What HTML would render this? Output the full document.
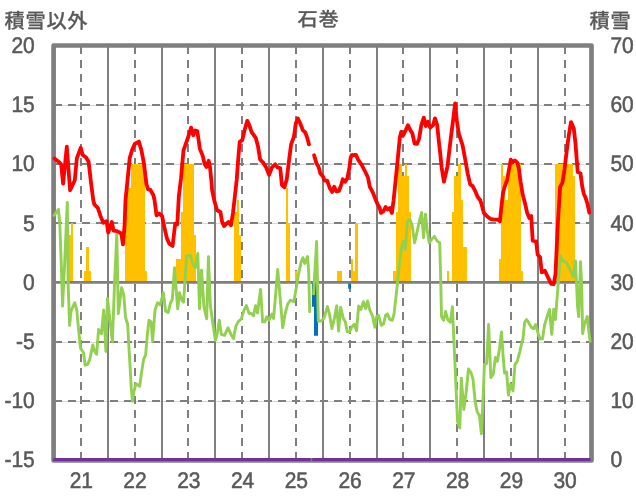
<!DOCTYPE html>
<html lang="ja"><head><meta charset="utf-8"><title>石巻</title>
<style>html,body{margin:0;padding:0;background:#fff}body{width:636px;height:501px;overflow:hidden}svg{display:block}text{font-family:"Liberation Sans","Noto Sans CJK JP",sans-serif;font-size:21px;fill:#595959}.j{text-rendering:geometricPrecision;font-weight:500;stroke:#595959;stroke-width:0.25px;font-size:20.2px;letter-spacing:0.75px}.n{stroke:#595959;stroke-width:0.5px;stroke-linejoin:round;text-rendering:geometricPrecision}</style></head><body>
<svg width="636" height="501" viewBox="0 0 636 501">
<rect width="636" height="501" fill="#fff"/>
<g stroke="#d9d9d9" stroke-width="1">
<line x1="53.6" x2="591.5" y1="105.5" y2="105.5"/>
<line x1="53.6" x2="591.5" y1="164.5" y2="164.5"/>
<line x1="53.6" x2="591.5" y1="223.5" y2="223.5"/>
<line x1="53.6" x2="591.5" y1="342.5" y2="342.5"/>
<line x1="53.6" x2="591.5" y1="401.5" y2="401.5"/>
</g>
<g stroke="#7f7f7f" stroke-width="2" stroke-dasharray="8 6">
<line x1="54" x2="591.5" y1="105.0" y2="105.0"/>
<line x1="54" x2="591.5" y1="164.0" y2="164.0"/>
<line x1="54" x2="591.5" y1="223.0" y2="223.0"/>
<line x1="54" x2="591.5" y1="342.0" y2="342.0"/>
<line x1="54" x2="591.5" y1="401.0" y2="401.0"/>
</g>
<g stroke="#7f7f7f" stroke-width="2">
<line x1="108" x2="108" y1="45.5" y2="460.4"/>
<line x1="162" x2="162" y1="45.5" y2="460.4"/>
<line x1="215" x2="215" y1="45.5" y2="460.4"/>
<line x1="269" x2="269" y1="45.5" y2="460.4"/>
<line x1="323" x2="323" y1="45.5" y2="460.4"/>
<line x1="377" x2="377" y1="45.5" y2="460.4"/>
<line x1="430" x2="430" y1="45.5" y2="460.4"/>
<line x1="484" x2="484" y1="45.5" y2="460.4"/>
<line x1="538" x2="538" y1="45.5" y2="460.4"/>
</g>
<g stroke="#7f7f7f" stroke-width="2" stroke-dasharray="8 6">
<line x1="81" x2="81" y1="46" y2="460.4"/>
<line x1="135" x2="135" y1="46" y2="460.4"/>
<line x1="188" x2="188" y1="46" y2="460.4"/>
<line x1="242" x2="242" y1="46" y2="460.4"/>
<line x1="296" x2="296" y1="46" y2="460.4"/>
<line x1="350" x2="350" y1="46" y2="460.4"/>
<line x1="403" x2="403" y1="46" y2="460.4"/>
<line x1="457" x2="457" y1="46" y2="460.4"/>
<line x1="511" x2="511" y1="46" y2="460.4"/>
<line x1="565" x2="565" y1="46" y2="460.4"/>
</g>
<g fill="#ffc000">
<path d="M69,282.4V235H71V223H73V282.4ZM84,282.4V271H86V247H89V271H91V282.4ZM125,282.4V212H127V188H129V188H131V164H134V164H136V164H138V164H140V164H142V164H145V271H147V282.4ZM176,282.4V259H178V259H181V212H183V164H185V164H187V164H190V164H192V164H194V235H196V282.4ZM234,282.4V212H237V200H239V235H241V282.4ZM286,282.4V188H288V223H290V282.4ZM295,282.4V271H297V282.4ZM337,282.4V271H340V271H342V282.4ZM351,282.4V259H353V271H355V223H358V282.4ZM393,282.4V271H396V212H398V164H400V164H402V176H405V164H407V176H409V212H411V282.4ZM447,282.4V271H449V282.4ZM452,282.4V212H454V176H456V176H458V164H461V200H463V247H465V247H467V282.4ZM499,282.4V259H501V164H503V176H505V200H508V164H510V164H512V164H514V164H517V164H519V164H521V271H523V282.4ZM555,282.4V164H557V164H559V164H561V164H564V164H566V164H568V164H570V164H573V176H575V282.4Z"/>
</g>
<g fill="#0070c0">
<path d="M312,282.4V306.7H314V335.8H318V282.4ZM348.2,282.4V288.8H351V282.4Z"/>
</g>
<line x1="53.6" x2="591.5" y1="282.35" y2="282.35" stroke="#7f7f7f" stroke-width="2.9"/>
<rect x="53.6" y="45.5" width="537.9" height="414.9" fill="none" stroke="#7f7f7f" stroke-width="4.7" stroke-linejoin="round"/>
<polyline points="54.1,215.3 58.5,209.3 59.8,224.0 61.2,262.0 62.6,306.1 64.7,262.0 67.3,202.5 68.1,282.4 69.6,325.4 71.0,311.1 74.7,302.7 76.8,310.3 78.5,328.7 80.5,348.2 83.5,352.8 85.2,365.2 87.7,364.4 89.8,359.3 92.8,344.9 94.4,350.9 96.6,354.3 98.6,329.5 101.5,333.7 103.7,309.9 105.9,351.5 107.5,298.5 112.4,341.5 114.6,282.4 116.8,234.4 118.3,313.6 121.6,287.6 123.8,295.2 125.5,317.0 127.7,324.5 128.5,340.0 129.7,360.2 131.3,388.7 132.5,401.3 134.2,390.4 135.9,383.6 139.7,386.2 141.4,373.6 143.6,359.3 145.6,355.1 147.3,335.0 149.0,320.3 151.1,322.0 152.6,341.3 155.0,310.2 157.5,302.8 160.1,304.8 163.4,292.6 165.6,311.2 168.1,312.5 170.5,302.9 172.3,299.5 174.5,267.7 177.7,308.8 179.5,292.8 181.9,300.4 183.5,302.1 185.2,278.6 186.6,255.9 190.3,255.4 192.8,263.5 195.3,267.7 197.8,253.4 199.5,308.8 201.5,270.2 204.0,307.1 206.7,318.8 208.4,256.8 210.4,306.0 212.9,323.5 215.4,340.3 217.1,334.4 219.3,320.2 221.3,334.4 224.6,335.3 228.0,327.7 231.0,334.4 233.5,338.6 235.9,326.1 238.1,321.9 241.4,318.7 243.9,310.3 246.4,305.6 249.0,313.3 251.5,313.6 253.5,315.6 255.6,305.6 257.5,313.0 260.6,289.5 262.6,321.9 264.8,321.9 266.8,316.8 269.0,320.2 271.8,314.3 273.5,318.5 275.2,300.1 277.7,269.4 280.2,298.5 282.7,327.7 285.2,313.5 287.7,304.0 290.3,300.3 293.9,301.5 296.1,288.7 298.6,273.6 301.2,261.9 302.8,257.7 304.8,263.5 307.5,256.5 308.7,271.9 309.7,311.8" fill="none" stroke="#92d050" stroke-width="2.9" stroke-linejoin="round" stroke-linecap="round"/>
<polyline points="313.6,293.9 316.6,241.4 318.3,321.0 321.3,321.0 323.8,318.5 327.5,306.6 329.7,315.2 331.9,328.6 334.4,318.5 336.7,305.7 338.6,331.1 340.6,307.4 343.1,317.7 345.3,321.9 347.3,331.9 349.5,331.9 351.8,326.9 354.3,324.4 356.5,330.8 358.7,306.0 360.9,309.4 363.4,301.8 365.6,308.5 367.6,301.0 369.8,310.2 372.6,316.1 374.8,327.3 376.5,316.9 378.5,315.3 381.4,325.3 383.5,324.0 385.6,315.3 387.4,313.9 389.8,319.4 392.3,320.3 394.1,313.6 395.6,300.2 397.3,285.0 399.5,262.0 402.0,245.3 403.7,241.1 405.4,249.4 407.4,221.8 409.9,219.3 412.1,225.1 414.6,242.7 417.1,231.8 419.6,220.1 421.6,212.5 423.5,237.7 425.5,214.2 427.2,230.2 429.2,242.7 431.7,239.4 434.4,236.4 437.2,241.1 439.7,242.7 440.6,275.0 441.5,316.5 443.6,320.3 445.6,311.5 447.8,319.8 450.3,322.3 452.4,306.6 453.9,341.0 454.8,360.0 455.9,385.2 457.6,422.1 459.8,427.9 461.3,378.1 463.8,409.5 466.0,393.5 468.5,369.0 471.0,372.6 473.0,379.3 475.2,401.9 477.2,412.0 479.4,415.4 481.4,433.8 483.3,393.5 484.4,364.4 486.6,363.6 488.6,324.4 490.8,377.6 493.3,374.3 495.4,357.5 497.4,361.3 499.5,348.7 501.5,331.9 503.2,357.1 504.6,373.0 506.6,371.9 508.4,395.2 510.4,384.3 513.0,391.0 515.0,364.4 517.2,361.5 519.7,352.1 521.8,343.0 523.0,338.6 524.6,322.3 526.5,319.6 528.7,322.7 531.7,327.7 533.8,328.6 535.6,324.6 537.9,332.7 540.1,339.0 542.5,338.8 544.5,325.2 547.0,316.8 549.5,309.4 551.7,334.4 553.7,309.3 555.4,319.5 557.9,287.6 560.4,255.8 562.4,260.2 566.6,262.7 569.6,268.5 573.3,276.9 575.5,261.0 577.5,306.0 578.7,316.6 580.5,261.8 581.7,285.3 582.6,333.6 584.7,323.5 587.2,316.4 588.9,331.9 590.1,341.2" fill="none" stroke="#92d050" stroke-width="2.9" stroke-linejoin="round" stroke-linecap="round"/>
<g stroke="#7030a0" stroke-width="3.1" stroke-linecap="round"><line x1="54.4" x2="309.5" y1="459.5" y2="459.5"/><line x1="313.45" x2="589.3" y1="459.5" y2="459.5"/></g>
<polyline points="54.5,158.5 57.0,160.6 59.2,162.3 61.2,164.6 63.1,183.5 66.8,146.6 70.1,190.3 74.8,180.2 76.8,158.4 80.7,147.8 82.7,155.0 86.1,157.5 88.6,161.7 91.1,183.5 93.3,200.3 94.4,204.5 97.8,207.9 100.3,215.4 103.3,222.8 106.6,221.2 108.2,232.5 111.9,222.0 113.5,230.7 117.1,231.2 121.3,233.5 123.0,244.4 124.6,225.2 125.5,200.3 127.7,178.5 129.7,158.0 132.2,149.7 134.7,144.0 138.9,141.6 141.4,150.2 143.9,163.4 146.4,184.0 148.1,189.4 150.3,189.8 153.5,195.5 154.5,200.0 156.5,215.3 159.2,213.5 162.1,216.1 164.3,227.0 166.8,237.9 169.3,243.7 172.6,245.9 175.2,223.6 177.3,224.4 178.8,196.8 181.0,178.5 183.5,150.3 187.7,138.5 191.1,127.6 193.3,135.2 195.3,130.5 197.3,131.0 199.8,148.6 202.8,156.1 204.5,163.7 206.5,167.0 208.7,160.8 210.0,167.0 211.7,184.0 212.1,190.1 214.6,201.8 217.1,210.2 220.4,211.9 222.1,221.9 224.1,226.1 228.5,221.9 231.0,225.3 233.0,212.7 235.0,195.1 236.7,180.0 238.1,160.3 239.7,141.9 242.3,140.2 244.8,129.3 247.3,120.9 249.3,125.1 251.5,131.8 255.9,138.2 258.1,146.9 260.1,159.5 263.4,162.9 265.9,166.9 269.1,174.9 272.0,167.3 275.2,164.3 277.7,167.5 280.2,168.0 281.9,185.0 284.5,187.2 286.8,179.0 288.6,163.7 291.1,144.4 293.9,136.9 295.8,123.5 297.8,118.4 300.3,123.5 302.8,130.2 305.4,132.7 307.4,138.5 309.0,144.4" fill="none" stroke="#ff0000" stroke-width="3.8" stroke-linejoin="round" stroke-linecap="round"/>
<polyline points="314.1,155.3 316.3,162.9 318.4,166.4 320.4,173.5 323.0,176.5 324.6,180.7 327.2,180.7 329.7,188.0 332.2,191.9 334.2,186.8 336.4,191.5 338.9,191.0 341.4,184.3 342.8,179.3 345.1,181.8 347.3,178.5 349.3,168.4 350.6,158.0 351.7,155.2 355.9,154.8 358.4,160.2 361.7,164.8 365.1,171.5 368.0,177.5 369.8,186.9 372.6,191.9 375.2,198.6 377.7,204.5 379.4,207.0 381.0,212.9 383.5,211.2 385.6,207.0 387.7,209.5 389.8,207.9 391.9,212.9 393.6,200.3 395.3,183.7 397.4,162.7 399.8,137.7 401.2,131.9 403.3,135.2 405.7,130.2 407.9,125.2 410.4,130.2 412.4,133.5 414.6,143.6 417.1,143.9 419.1,138.6 421.3,125.2 423.8,117.6 425.8,126.0 428.0,121.8 430.2,127.7 433.0,125.2 435.0,118.4 437.2,125.2 438.9,141.9 440.5,156.0 441.6,167.3 443.9,181.7 447.4,166.9 450.7,139.0 453.3,118.5 455.1,103.4 456.8,120.2 458.8,133.6 462.6,145.3 465.4,160.5 467.7,173.6 470.2,184.4 472.7,186.1 475.2,191.1 477.7,197.0 480.3,200.3 481.9,205.4 483.9,212.9 487.0,216.3 490.3,218.8 493.7,219.6 497.9,219.6 499.9,221.3 501.2,208.7 502.9,193.6 504.6,186.9 507.1,180.0 508.9,170.0 510.8,159.7 512.6,162.4 514.8,160.4 517.5,162.8 519.0,169.5 520.6,182.0 522.8,195.2 525.1,203.6 527.3,213.3 529.3,218.0 531.2,216.0 532.7,240.6 536.1,241.4 537.7,254.7 540.1,257.3 541.7,272.4 544.9,270.8 547.0,275.2 549.1,279.6 551.1,283.8 553.7,284.1 555.5,274.0 557.9,222.5 560.1,186.9 562.4,182.9 564.6,168.7 566.6,151.9 568.8,135.2 571.0,122.1 573.8,128.5 575.5,143.5 577.7,172.1 580.5,173.4 582.3,187.0 583.9,194.0 585.5,197.6 587.4,203.5 588.7,209.5 589.3,212.6" fill="none" stroke="#ff0000" stroke-width="3.8" stroke-linejoin="round" stroke-linecap="round"/>
<text class="j" transform="translate(4.5,27.6)">積雪以外</text>
<text class="j" transform="translate(318.5,26.1) scale(1,0.95)" text-anchor="middle">石巻</text>
<text class="j" transform="translate(589.5,27.6)">積雪</text>
<text class="n" transform="translate(34.8,53.00) scale(1,1.075)" text-anchor="end">20</text>
<text class="n" transform="translate(34.8,112.20) scale(1,1.075)" text-anchor="end">15</text>
<text class="n" transform="translate(34.8,171.40) scale(1,1.075)" text-anchor="end">10</text>
<text class="n" transform="translate(34.8,230.60) scale(1,1.075)" text-anchor="end">5</text>
<text class="n" transform="translate(34.8,289.80) scale(1,1.075)" text-anchor="end">0</text>
<text class="n" transform="translate(34.8,349.00) scale(1,1.075)" text-anchor="end">-5</text>
<text class="n" transform="translate(34.8,408.20) scale(1,1.075)" text-anchor="end">-10</text>
<text class="n" transform="translate(34.8,467.40) scale(1,1.075)" text-anchor="end">-15</text>
<text class="n" transform="translate(610.4,53.00) scale(1,1.075)">70</text>
<text class="n" transform="translate(610.4,112.20) scale(1,1.075)">60</text>
<text class="n" transform="translate(610.4,171.40) scale(1,1.075)">50</text>
<text class="n" transform="translate(610.4,230.60) scale(1,1.075)">40</text>
<text class="n" transform="translate(610.4,289.80) scale(1,1.075)">30</text>
<text class="n" transform="translate(610.4,349.00) scale(1,1.075)">20</text>
<text class="n" transform="translate(610.4,408.20) scale(1,1.075)">10</text>
<text class="n" transform="translate(610.4,467.40) scale(1,1.075)">0</text>
<text class="n" transform="translate(81.3,487.6) scale(1,1.075)" text-anchor="middle">21</text>
<text class="n" transform="translate(135.0,487.6) scale(1,1.075)" text-anchor="middle">22</text>
<text class="n" transform="translate(188.8,487.6) scale(1,1.075)" text-anchor="middle">23</text>
<text class="n" transform="translate(242.6,487.6) scale(1,1.075)" text-anchor="middle">24</text>
<text class="n" transform="translate(296.3,487.6) scale(1,1.075)" text-anchor="middle">25</text>
<text class="n" transform="translate(350.1,487.6) scale(1,1.075)" text-anchor="middle">26</text>
<text class="n" transform="translate(403.8,487.6) scale(1,1.075)" text-anchor="middle">27</text>
<text class="n" transform="translate(457.6,487.6) scale(1,1.075)" text-anchor="middle">28</text>
<text class="n" transform="translate(511.4,487.6) scale(1,1.075)" text-anchor="middle">29</text>
<text class="n" transform="translate(565.1,487.6) scale(1,1.075)" text-anchor="middle">30</text>
</svg></body></html>
